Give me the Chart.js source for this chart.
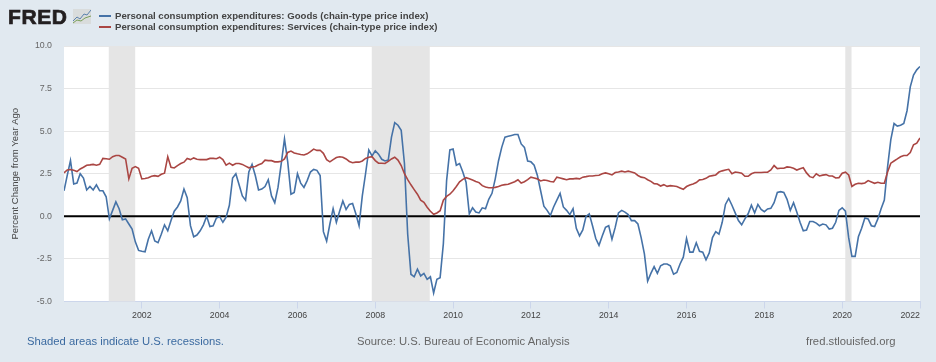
<!DOCTYPE html>
<html lang="en">
<head>
  <meta charset="UTF-8">
  <title>FRED PCE price index</title>
  <script src="https://cdn.jsdelivr.net/npm/chart.js"></script>
  <style>
    html, body { margin: 0; padding: 0; background: #e1e9f0; }
    #wrap { position: relative; width: 936px; height: 362px; overflow: hidden; font-family: 'Liberation Sans', Arial, sans-serif; }
    canvas { position: absolute; left: 0; top: 0; }
    .abs { position: absolute; white-space: nowrap; }
    #logo { left: 8px; top: 3px; font-size: 21px; line-height: 27px; font-weight: bold; color: #231f20; -webkit-text-stroke: 0.7px #231f20; letter-spacing: 0.6px; }
    #icon { left: 73px; top: 9px; }
    .leg { left: 115px; font-size: 9.65px; line-height: 12px; font-weight: bold; color: #444; }
    .swatch { position: absolute; left: 99px; width: 12px; height: 2px; }
    .foot { top: 334px; font-size: 11.25px; line-height: 14px; color: #666; }
  </style>
</head>
<body>
<div id="wrap">
  <canvas id="chart" width="936" height="362"></canvas>
  <div id="logo" class="abs">FRED</div>
  <svg id="icon" class="abs" width="18" height="15" viewBox="0 0 18 15">
    <rect width="18" height="15" fill="#d9dcdc"/>
    <polyline points="0,12 4,8 7,10 11,5 14,6 18,1" fill="none" stroke="#5b82ad" stroke-width="1"/>
    <polyline points="0,14 4,11 8,12 12,9 18,7" fill="none" stroke="#7ba05b" stroke-width="1"/>
  </svg>
  <div class="swatch" style="top:15px;background:#4572a7"></div>
  <div class="swatch" style="top:26px;background:#aa4643"></div>
  <div id="leg0" class="abs leg" style="top:10px"></div>
  <div id="leg1" class="abs leg" style="top:21px"></div>
  <div class="abs foot" style="left:27px;color:#3b6aa0">Shaded areas indicate U.S. recessions.</div>
  <div class="abs foot" style="left:357px">Source: U.S. Bureau of Economic Analysis</div>
  <div class="abs foot" style="left:806px">fred.stlouisfed.org</div>
</div>

<script>
const seriesNames = [
  "Personal consumption expenditures: Goods (chain-type price index)",
  "Personal consumption expenditures: Services (chain-type price index)"
];
const startYear = 2000;
const yTicks = [-5, -2.5, 0, 2.5, 5, 7.5, 10];
const xTickYears = [2002, 2004, 2006, 2008, 2010, 2012, 2014, 2016, 2018, 2020, 2022];
// recessions in decimal years
const recessions = [[2001.15, 2001.83], [2007.91, 2009.4], [2020.08, 2020.24]];

const goods = [
  1.5,2.4,3.27,1.9,1.95,2.5,2.25,1.55,1.75,1.55,1.85,1.5,
  1.5,1.15,-0.15,0.35,0.85,0.45,-0.2,-0.15,-0.45,-0.75,-1.5,-2.0,
  -2.05,-2.08,-1.35,-0.85,-1.45,-1.55,-1.05,-0.5,-0.85,-0.25,0.3,0.55,
  0.9,1.6,1.1,-0.55,-1.2,-1.1,-0.85,-0.5,0,-0.6,-0.55,-0.1,
  -0.02,-0.35,-0.05,0.65,2.25,2.5,1.85,1.2,0.95,2.6,3.05,2.4,
  1.55,1.6,1.75,2.15,1.2,0.8,1.7,3.1,4.55,3.2,1.3,1.4,
  2.5,1.95,1.7,2.1,2.6,2.75,2.7,2.4,-0.9,-1.45,-0.45,0.45,
  -0.35,0.3,0.9,0.4,0.7,0.75,0.15,-0.55,1.2,2.5,3.9,3.55,
  3.85,3.65,3.35,3.25,3.3,4.65,5.5,5.35,5.05,3.1,-1.05,-3.4,
  -3.55,-3.1,-3.5,-3.35,-3.7,-3.55,-4.5,-3.7,-3.6,-1.6,2.1,3.9,
  3.95,3.0,3.1,2.6,2.0,0.15,0.5,0.25,0.2,0.5,0.45,1.0,
  1.35,2.2,3.25,4.05,4.65,4.7,4.75,4.8,4.8,4.25,4.05,3.25,
  3.2,3.0,2.4,1.5,0.6,0.35,0.05,0.55,0.95,1.35,0.55,0.35,
  0.1,0.45,-0.7,-1.15,-0.8,0,0.15,-0.55,-1.3,-1.7,-1.15,-0.65,
  -0.55,-1.35,-0.65,0.2,0.35,0.25,0.1,-0.25,-0.25,-0.45,-1.25,-2.2,
  -3.8,-3.35,-2.95,-3.35,-2.9,-2.8,-2.8,-2.9,-3.4,-3.3,-2.8,-2.4,
  -1.3,-2.1,-2.1,-1.55,-2.05,-2.1,-2.55,-2.15,-1.25,-0.9,-1.05,-0.35,
  0.7,1.05,0.65,0.2,-0.25,-0.5,-0.15,0.15,0.65,0.2,0.7,0.4,
  0.27,0.43,0.47,0.8,1.4,1.45,1.4,1.0,0.35,0.8,0.25,-0.35,
  -0.85,-0.8,-0.3,-0.3,-0.4,-0.55,-0.45,-0.5,-0.75,-0.7,-0.35,0.35,
  0.5,0.3,-1.25,-2.35,-2.35,-1.2,-0.7,-0.1,-0.15,-0.55,-0.6,-0.15,
  0.45,0.95,2.9,4.5,5.45,5.3,5.35,5.45,6.2,7.6,8.3,8.6,
  8.8
];
const services = [
  2.55,2.72,2.75,2.7,2.63,2.78,2.88,3.0,3.02,3.05,3.0,3.05,
  3.4,3.38,3.35,3.5,3.57,3.57,3.47,3.37,2.2,2.82,2.92,2.82,
  2.2,2.22,2.27,2.35,2.39,2.35,2.47,2.53,3.5,2.88,2.84,2.98,
  3.1,3.18,3.4,3.33,3.43,3.35,3.33,3.33,3.33,3.4,3.4,3.38,
  3.47,3.33,3.0,3.12,3.0,3.1,3.1,3.05,2.95,2.85,2.9,2.93,
  3.03,3.1,3.3,3.27,3.27,3.2,3.2,3.23,3.37,3.75,3.83,3.72,
  3.67,3.63,3.6,3.67,3.8,3.95,3.87,3.88,3.7,3.33,3.2,3.33,
  3.45,3.5,3.47,3.37,3.22,3.15,3.18,3.18,3.25,3.4,3.47,3.5,
  3.27,3.12,3.12,3.1,3.23,3.37,3.47,3.3,2.98,2.5,2.15,1.85,
  1.57,1.3,0.95,0.82,0.53,0.3,0.12,0.2,0.33,0.95,1.17,1.3,
  1.5,1.75,2.03,2.17,2.27,2.2,2.13,2.05,1.98,1.8,1.72,1.68,
  1.68,1.7,1.75,1.82,1.86,1.88,1.96,2.03,2.15,1.96,2.03,2.15,
  2.3,2.25,2.2,2.08,2.13,2.1,2.04,2.02,2.3,2.25,2.2,2.15,
  2.2,2.2,2.23,2.2,2.3,2.33,2.37,2.37,2.4,2.41,2.5,2.55,
  2.5,2.43,2.57,2.6,2.65,2.6,2.65,2.6,2.55,2.4,2.3,2.27,
  2.15,2.05,1.92,1.9,1.78,1.86,1.76,1.8,1.78,1.75,1.67,1.59,
  1.75,1.84,1.9,1.98,2.14,2.16,2.23,2.35,2.39,2.43,2.6,2.67,
  2.72,2.76,2.5,2.6,2.57,2.53,2.35,2.35,2.5,2.57,2.57,2.57,
  2.59,2.59,2.72,2.98,2.8,2.82,2.82,2.9,2.88,2.82,2.72,2.8,
  2.85,2.55,2.33,2.27,2.5,2.37,2.42,2.45,2.37,2.37,2.25,2.27,
  2.53,2.59,2.43,1.75,1.88,1.94,1.92,1.96,2.1,2.02,1.94,2.0,
  1.94,1.94,2.6,3.12,3.25,3.37,3.5,3.57,3.57,3.75,4.2,4.3,
  4.6
];

document.getElementById("leg0").textContent = seriesNames[0];
document.getElementById("leg1").textContent = seriesNames[1];

const toPoints = arr => arr.map((v, i) => ({ x: startYear + i / 12, y: v }));
const tickFont = { family: "'Liberation Sans', Arial, sans-serif", size: 8.8 };

const bandsPlugin = {
  id: "bands",
  // white plot background, under the grid
  beforeDraw(chart) {
    const { ctx, chartArea: a } = chart;
    ctx.save();
    ctx.fillStyle = "#fff";
    ctx.fillRect(a.left, a.top, a.right - a.left, a.bottom - a.top);
    ctx.restore();
  },
  // grey bands + black zero line go between the grid and the series
  beforeDatasetsDraw(chart) {
    const { ctx, chartArea: a, scales: { x, y } } = chart;
    ctx.save();
    ctx.fillStyle = "#e5e5e5";
    recessions.forEach(r => {
      const x0 = x.getPixelForValue(r[0]), x1 = x.getPixelForValue(r[1]);
      ctx.fillRect(x0, a.top, x1 - x0, a.bottom - a.top);
    });
    ctx.strokeStyle = "#000";
    ctx.lineWidth = 2;
    ctx.beginPath();
    ctx.moveTo(a.left, y.getPixelForValue(0));
    ctx.lineTo(a.right, y.getPixelForValue(0));
    ctx.stroke();
    ctx.restore();
  },
  // last year label sits flush with the right edge, not centred on its tick
  afterDraw(chart) {
    const { ctx, chartArea: a } = chart;
    ctx.save();
    ctx.font = "8.8px 'Liberation Sans', Arial, sans-serif";
    ctx.fillStyle = "#444";
    ctx.textAlign = "right";
    ctx.textBaseline = "middle";
    ctx.fillText("2022", a.right, 315.5);
    ctx.restore();
  }
};

new Chart(document.getElementById("chart"), {
  type: "line",
  data: {
    datasets: [
      { label: seriesNames[0], data: toPoints(goods), borderColor: "#4572a7", borderWidth: 1.6, pointRadius: 0, tension: 0, order: 2 },
      { label: seriesNames[1], data: toPoints(services), borderColor: "#aa4643", borderWidth: 1.6, pointRadius: 0, tension: 0, order: 1 }
    ]
  },
  options: {
    responsive: false,
    animation: false,
    layout: { padding: { top: 46, right: 16, left: 0, bottom: 0 } },
    plugins: { legend: { display: false }, tooltip: { enabled: false } },
    scales: {
      x: {
        type: "linear",
        min: 2000,
        max: 2022,
        afterFit: s => { s.height = 60.5; s.paddingLeft = 0; s.paddingRight = 0; },
        afterBuildTicks: s => { s.ticks = xTickYears.map(v => ({ value: v })); },
        grid: { drawOnChartArea: false, drawTicks: true, tickLength: 7, color: "#ccd6eb", lineWidth: 1 },
        border: { color: "#ccd6eb", width: 1 },
        ticks: {
          color: "#444",
          font: tickFont,
          maxRotation: 0,
          autoSkip: false,
          padding: 2,
          callback: v => (v === 2022 ? "" : String(v))
        }
      },
      y: {
        min: -5,
        max: 10,
        afterFit: s => { s.width = 64; },
        afterBuildTicks: s => { s.ticks = yTicks.map(v => ({ value: v })); },
        grid: { color: "#e6e6e6", lineWidth: 1, drawTicks: false },
        border: { display: false },
        title: { display: true, text: "Percent Change from Year Ago", color: "#444", font: { family: tickFont.family, size: 9.5 }, padding: { top: 10, bottom: 0 } },
        ticks: { color: "#666", font: tickFont, padding: 12, autoSkip: false, callback: v => v.toFixed(1) }
      }
    }
  },
  plugins: [bandsPlugin]
});
</script>
</body>
</html>
